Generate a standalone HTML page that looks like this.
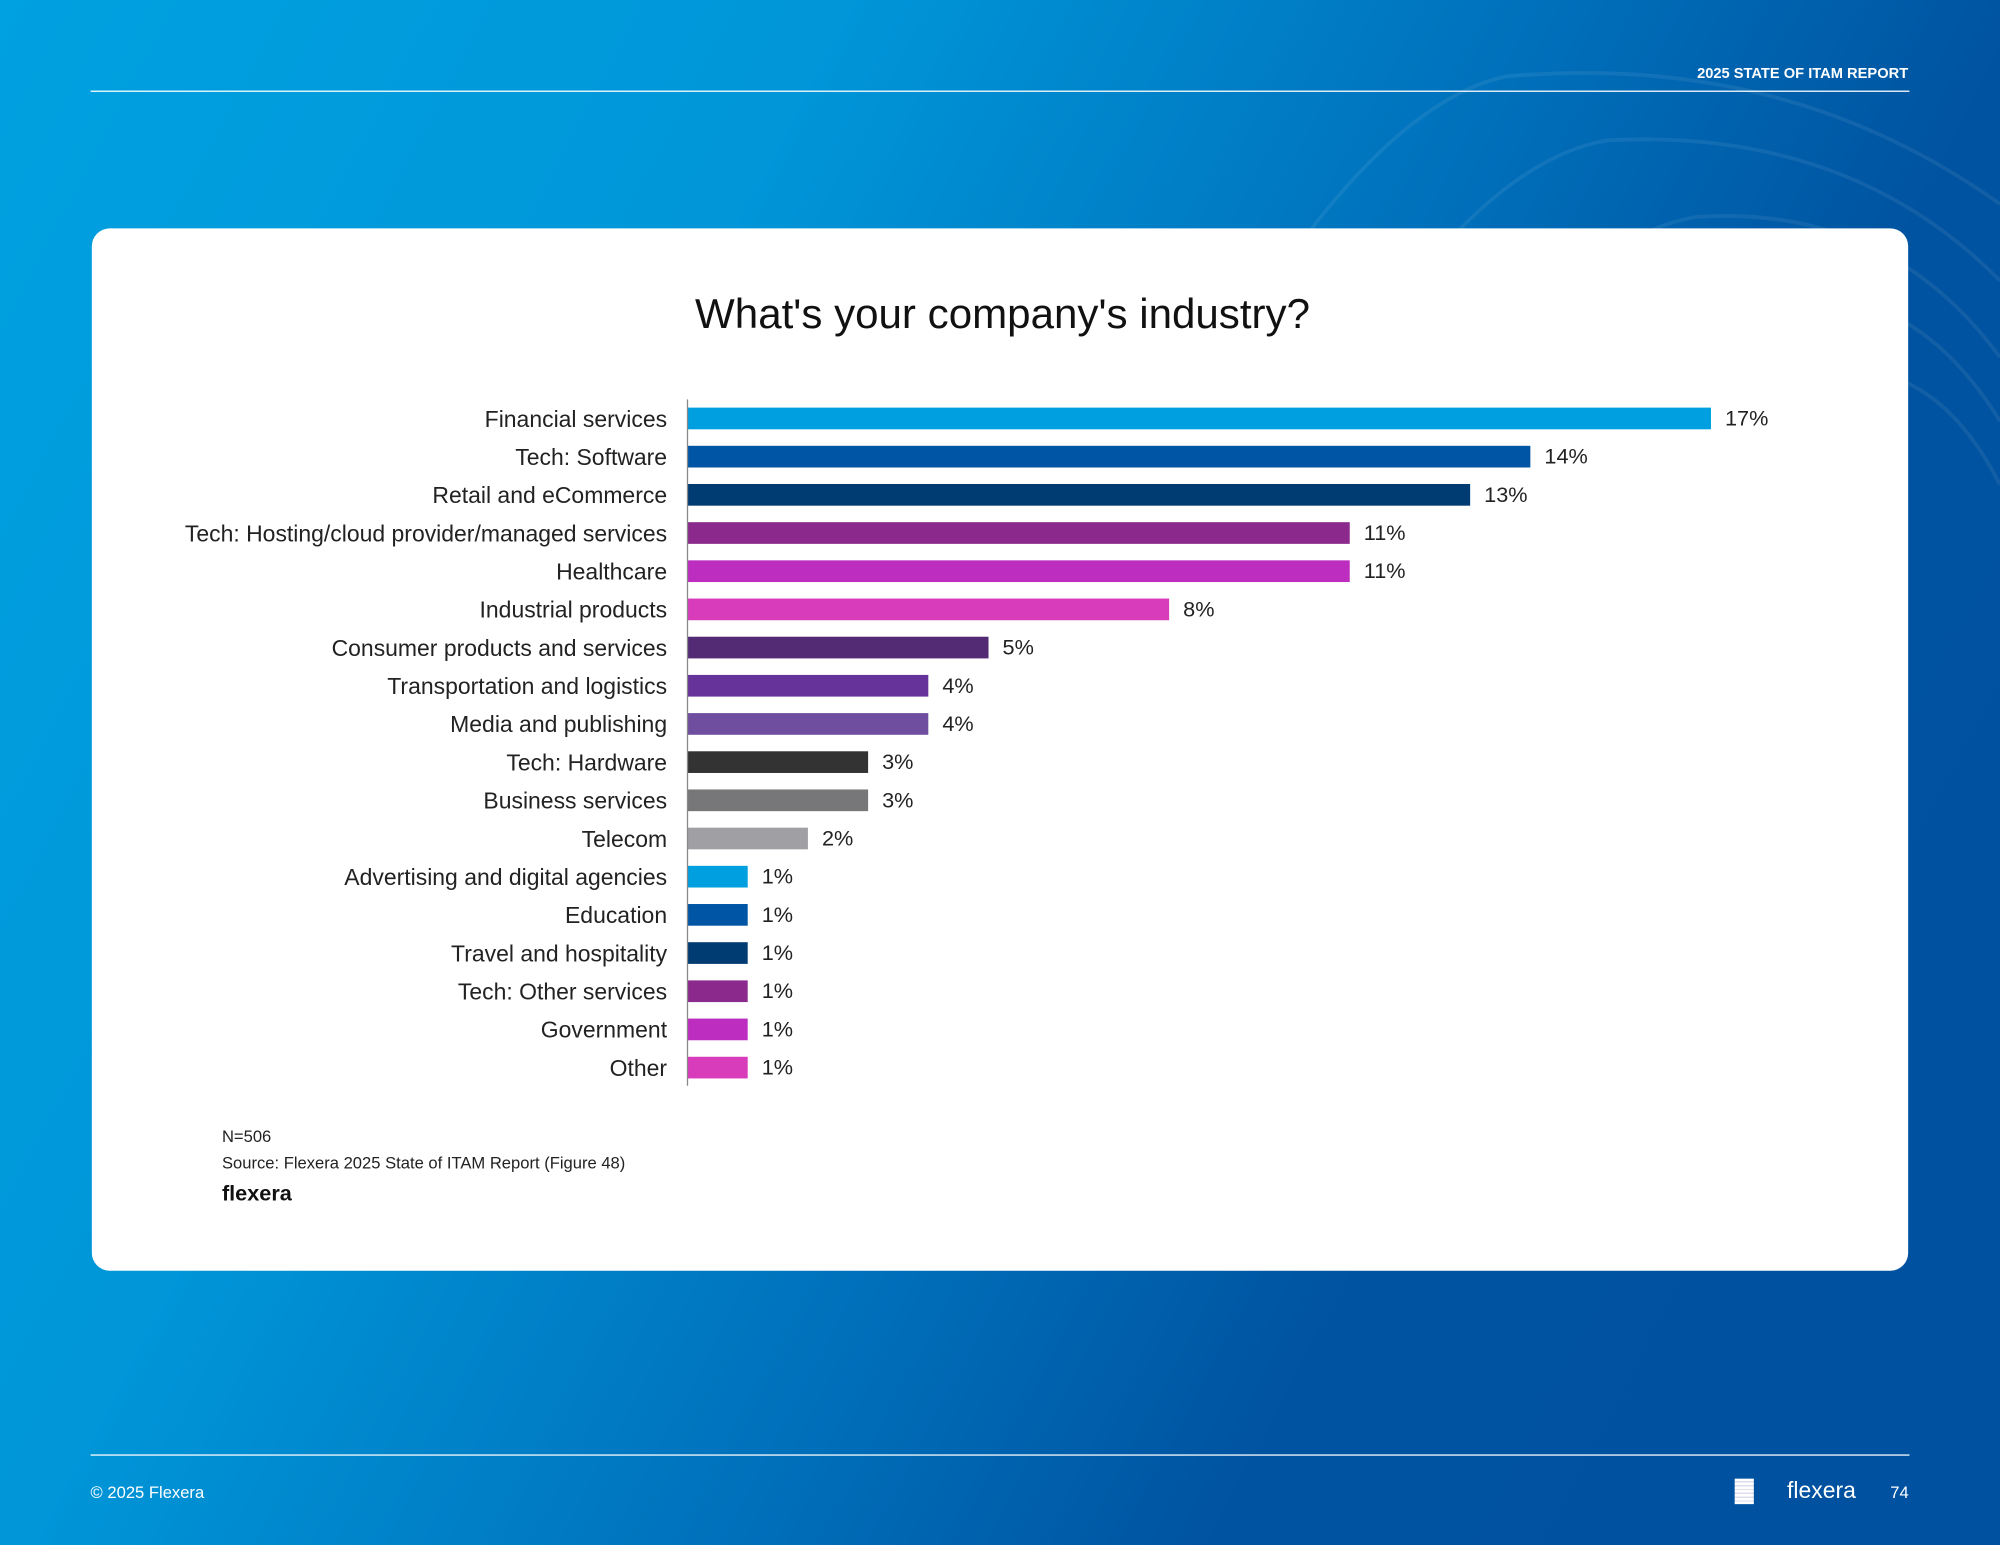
<!DOCTYPE html>
<html><head><meta charset="utf-8">
<style>
html,body{margin:0;padding:0;width:2000px;height:1545px;overflow:hidden;}
#stage{position:absolute;left:0;top:0;width:1568px;height:1211px;transform:scale(1.27551,1.27580);transform-origin:0 0;
background:linear-gradient(118deg,#00a1e0 0%,#0096d8 30%,#0070bb 55%,#0053a0 72%,#0052a0 100%);font-family:"Liberation Sans",sans-serif;overflow:hidden;}
.t{position:absolute;white-space:nowrap;}
</style></head><body>
<div id="stage">
<svg style="position:absolute;left:0;top:0" width="1568" height="1211">
<g fill="none" stroke="rgba(255,255,255,0.07)" stroke-width="3">
<path d="M760 700 Q1000 100 1180 60 Q1400 40 1568 160"/>
<path d="M860 700 Q1080 140 1260 110 Q1450 100 1568 220"/>
<path d="M940 720 Q1150 200 1330 170 Q1480 160 1568 280"/>
<path d="M1020 740 Q1220 260 1390 230 Q1500 220 1568 330"/>
<path d="M1100 760 Q1290 320 1440 290 Q1520 285 1568 380"/>
</g></svg>
<div class="t" style="right:72px;top:52px;color:#fff;font-weight:bold;font-size:11.5px;">2025 STATE OF ITAM REPORT</div>
<div style="position:absolute;left:71px;top:71px;width:1426px;height:1px;background:#fff;"></div>
<div style="position:absolute;left:72px;top:179px;width:1424px;height:817px;background:#fff;border-radius:14px;"></div>
<div class="t" style="left:0;width:1572px;text-align:center;top:227px;font-size:33px;color:#111;">What's your company's industry?</div>
<svg id="chart" style="position:absolute;left:0;top:0" width="1568" height="1211"></svg>
<div class="t" style="left:174px;top:883px;font-size:13px;color:#222;">N=506</div>
<div class="t" style="left:174px;top:904px;font-size:13px;color:#222;">Source: Flexera 2025 State of ITAM Report (Figure 48)</div>
<div class="t" style="left:174px;top:926px;font-size:17px;font-weight:bold;color:#111;">flexera</div>
<div style="position:absolute;left:71px;top:1140px;width:1426px;height:1px;background:#fff;"></div>
<div class="t" style="left:71px;top:1162px;font-size:13px;color:#fff;">© 2025 Flexera</div>
<div style="position:absolute;left:1360px;top:1159px;width:15px;height:20px;background:repeating-linear-gradient(#fff 0 2px,#dde 2px 3px);"></div>
<div class="t" style="left:1401px;top:1158px;font-size:18px;color:#fff;">flexera</div>
<div class="t" style="left:1482px;top:1162px;font-size:13px;color:#fff;">74</div>
</div>
<script>
const categories=["Financial services","Tech: Software","Retail and eCommerce","Tech: Hosting/cloud provider/managed services","Healthcare","Industrial products","Consumer products and services","Transportation and logistics","Media and publishing","Tech: Hardware","Business services","Telecom","Advertising and digital agencies","Education","Travel and hospitality","Tech: Other services","Government","Other"];
const values=[17,14,13,11,11,8,5,4,4,3,3,2,1,1,1,1,1,1];
const colors=["#009fdf","#0055a5","#003b72","#8b2a8c","#bd2ec0","#d93cbb","#522b74","#66339a","#6f4ea0","#333333","#77777a","#a0a0a4","#009fdf","#0055a5","#003b72","#8b2a8c","#bd2ec0","#d93cbb"];
const NS="http://www.w3.org/2000/svg";
const svg=document.getElementById('chart');
const x0=539,pxPer=47.2,y0=328,step=29.93,bh=17;
const xs=v=>x0+v*pxPer;
const ys=i=>y0+i*step;
function mk(t,a){const e=document.createElementNS(NS,t);for(const k in a)e.setAttribute(k,a[k]);svg.appendChild(e);return e;}
categories.forEach((c,i)=>{
  const r=mk('rect',{x:x0,y:ys(i)-bh/2,width:xs(values[i])-x0,height:bh,fill:colors[i]});
  
  
  const l=mk('text',{x:523,y:ys(i)+6.5,'text-anchor':'end','font-size':'18','font-family':'Liberation Sans, sans-serif',fill:'#222'});
  l.textContent=c;
  
  
  const v=mk('text',{x:xs(values[i])+11,y:ys(i)+5.5,'font-size':'17','font-family':'Liberation Sans, sans-serif',fill:'#222'});
  v.textContent=values[i]+'%';
  
  
});
const ax=mk('line',{x1:x0,x2:x0,y1:313,y2:851,stroke:'#888','stroke-width':1});


</script>
</body></html>
